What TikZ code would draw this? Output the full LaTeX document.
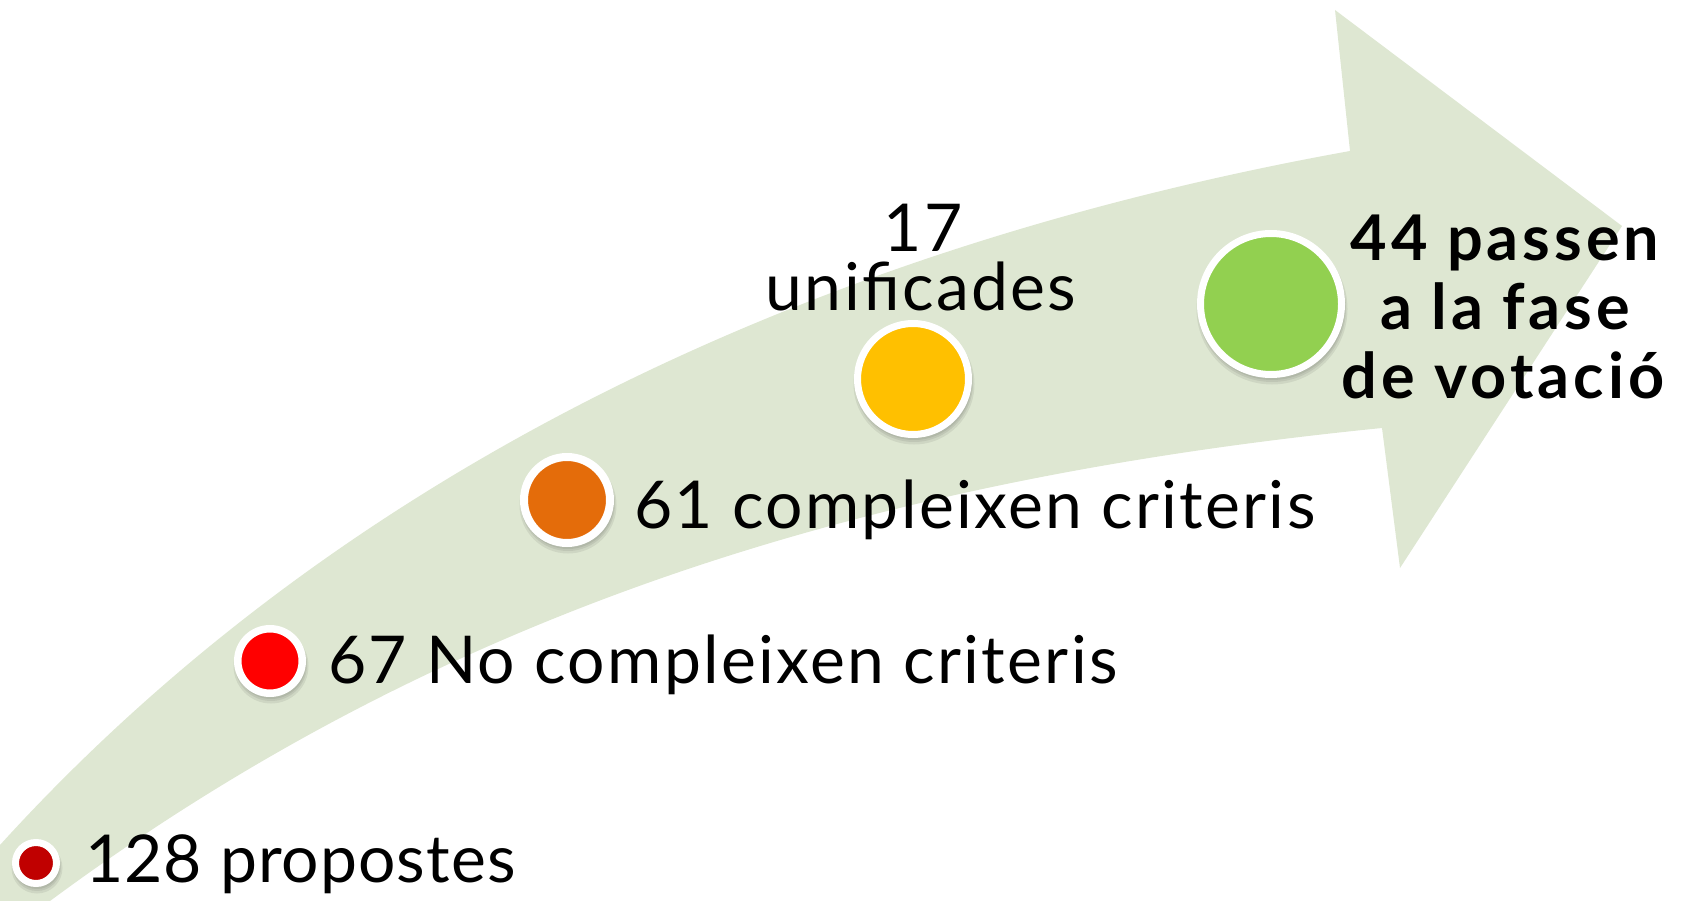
\documentclass[tikz,border=0pt]{standalone}
\usepackage{fontspec}
\setmainfont{Lato}
\newfontfamily\lblfont{Lato}[LetterSpace=3.5]
\newfontfamily\lblfontb{Lato}[LetterSpace=1.6]
\newfontfamily\blblfont{Lato}[LetterSpace=6.3]
\definecolor{bandc}{HTML}{DEE7D2}
\definecolor{cdred}{HTML}{C00000}
\definecolor{cred}{HTML}{FF0000}
\definecolor{corange}{HTML}{E46C0A}
\definecolor{cyellow}{HTML}{FFC000}
\definecolor{cgreen}{HTML}{92D050}
\begin{document}
\begin{tikzpicture}[x=1pt,y=-1pt,
  band/.style={fill=bandc},
  dot/.style={circle, draw=white, inner sep=0pt},
  shad/.style={fill=black, fill opacity=0.07},
  lbl/.style={inner sep=0pt, text=black, font=\lblfont\fontsize{66}{80}\selectfont},
  blbl/.style={inner sep=0pt, text=black, align=center, font=\blblfont\bfseries\fontsize{63}{69}\selectfont}]
\useasboundingbox (0,0) rectangle (1681,901);
% curved arrow
\fill[band] (0,845) .. controls (360,449) and (850,241) .. (1350,151)
  -- (1335,10) -- (1622,226) -- (1400,568) -- (1382,428)
  .. controls (882,478) and (450,605) .. (50,901) -- (0,901) -- cycle;
% centres
\coordinate (p1) at (36,863);
\coordinate (p2) at (270,661);
\coordinate (p3) at (567,500);
\coordinate (p4) at (913,379);
\coordinate (p5) at (1271,304);
% shadows
\foreach \p/\r in {p1/24,p2/36,p3/47,p4/59,p5/74}{
  \fill[shad] ([shift={(1,5)}]\p) circle (\r+1.5);
  \fill[shad] ([shift={(1,4)}]\p) circle (\r);
  \fill[shad] ([shift={(1,3)}]\p) circle (\r-1);
}
% dots
\node[dot, fill=cdred, line width=7pt, minimum size=41pt] (c1) at (p1) {};
\node[dot, fill=cred, line width=7.5pt, minimum size=64.5pt] (c2) at (p2) {};
\node[dot, fill=corange, line width=8pt, minimum size=86pt] (c3) at (p3) {};
\node[dot, fill=cyellow, line width=7pt, minimum size=111pt] (c4) at (p4) {};
\node[dot, fill=cgreen, line width=7pt, minimum size=141pt] (c5) at (p5) {};
% labels
\node[lbl, font=\lblfontb\fontsize{66}{80}\selectfont, anchor=base west] (t1) at (85,882) {128 propostes};
\node[lbl, anchor=base west] (t2) at (328,683) {67 No compleixen criteris};
\node[lbl, anchor=base west] (t3) at (634,528) {61 compleixen criteris};
\node[lbl, anchor=base] (t4a) at (923,252) {17};
\node[lbl, anchor=base] (t4b) at (921,310) {unificades};
\node[blbl, anchor=base] (t5a) at (1505,261) {44 passen};
\node[blbl, anchor=base] (t5b) at (1505,330) {a la fase};
\node[blbl, anchor=base] (t5c) at (1503,398) {de votació};
\end{tikzpicture}
\end{document}
